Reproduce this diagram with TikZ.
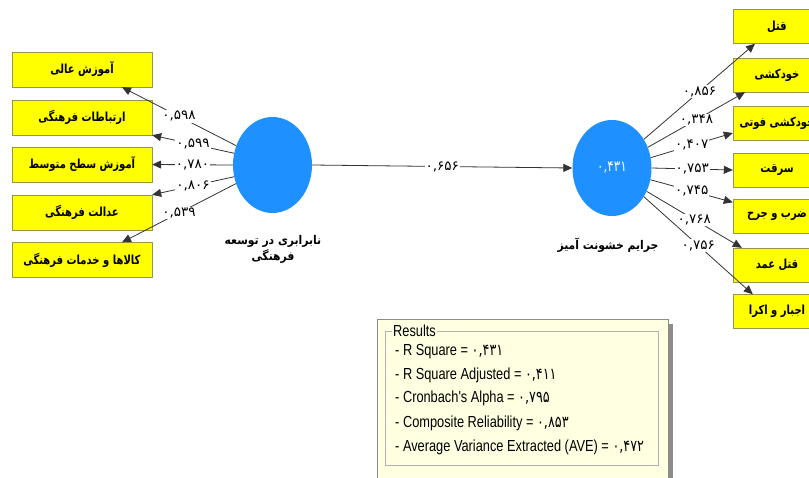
\documentclass[tikz,border=0pt]{standalone}
\usepackage{fontspec}
\setmainfont{Liberation Sans}
\newfontfamily\fa[Script=Arabic]{DejaVu Sans}
\newfontfamily\faC[Script=Arabic,FakeStretch=0.8]{DejaVu Sans}
\newfontfamily\faL[Script=Arabic,FakeStretch=0.9]{DejaVu Sans}
\newfontfamily\faN[Script=Arabic,FakeStretch=0.8]{DejaVu Sans}
\newfontfamily\resfont[FakeStretch=0.8]{Liberation Sans}
\TeXXeTstate=1
\usetikzlibrary{arrows.meta,shapes.geometric}
\definecolor{boxyellow}{RGB}{255,255,0}
\definecolor{boxborder}{RGB}{150,150,70}
\definecolor{lvblue}{RGB}{30,144,255}
\definecolor{resfill}{RGB}{255,255,225}
\tikzset{
  ind/.style={draw=boxborder, fill=boxyellow, minimum width=140pt, minimum height=35pt, inner sep=0pt,
    font=\faC\bfseries\fontsize{12.5}{14}\selectfont},
  indr/.style={ind, minimum width=88pt, minimum height=34pt},
  lv/.style={ellipse, fill=lvblue, minimum width=79pt, minimum height=96pt, inner sep=0pt,
    text=white, font=\faN\fontsize{15}{16}\selectfont},
  lvlab/.style={font=\faL\bfseries\fontsize{12}{16}\selectfont, align=center, inner sep=0pt},
  ld/.style={fill=white, inner sep=1pt, font=\fa\fontsize{13.5}{14}\selectfont},
  arr/.style={-{Triangle[length=9pt,width=8pt]}, draw=black!80, line width=0.8pt},
  resline/.style={anchor=west, inner sep=0pt, font=\resfont\fontsize{16}{18}\selectfont}
}
\begin{document}
\begin{tikzpicture}[x=1pt,y=-1pt]
\useasboundingbox (0,0) rectangle (809,477);
\clip (0,0) rectangle (809,477);
% left indicators
\node[ind] (b1) at (82,69.5) {\beginR آموزش عالی\endR};
\node[ind] (b2) at (82,117.5) {\beginR ارتباطات فرهنگی\endR};
\node[ind] (b3) at (82,164.5) {\beginR آموزش سطح متوسط\endR};
\node[ind] (b4) at (82,212.5) {\beginR عدالت فرهنگی\endR};
\node[ind] (b5) at (82,260) {\beginR کالاها و خدمات فرهنگی\endR};
% latent variables
\node[lv] (L) at (272.5,165) {};
\node[lv] (R) at (612,168) {۰,۴۳۱};
\node[lvlab] (Llab) at (273,249) {\beginR نابرابری در توسعه\endR\\\beginR فرهنگی\endR};
\node[lvlab] (Rlab) at (608,245) {\beginR جرایم خشونت آمیز\endR};
% right indicators
\node[indr] (r1) at (777,26.5) {\makebox[0pt]{\beginR قتل\endR}};
\node[indr] (r2) at (777,75) {\makebox[0pt]{\beginR خودکشی\endR}};
\node[indr] (r3) at (777,123) {\makebox[0pt]{\beginR خودکشی فوتی\endR}};
\node[indr] (r4) at (777,170) {\makebox[0pt]{\beginR سرقت\endR}};
\node[indr] (r5) at (777,216.5) {\makebox[0pt]{\beginR ضرب و جرح\endR}};
\node[indr] (r6) at (777,265) {\makebox[0pt]{\beginR قتل عمد\endR}};
\node[indr] (r7) at (777,311.5) {\makebox[0pt]{\beginR اجبار و اکرا\endR}};
% left arrows
\draw[arr] (L.152) -- node[ld]{۰,۵۹۸} ([xshift=40pt]b1.south);
\draw[arr] (L.163) -- node[ld]{۰,۵۹۹} (b2.south east);
\draw[arr] (L.180) -- node[ld]{۰,۷۸۰} (b3.east);
\draw[arr] (L.197) -- node[ld]{۰,۸۰۶} (b4.north east);
\draw[arr] (L.207) -- node[ld]{۰,۵۳۹} ([xshift=40pt]b5.north);
% inner path
\draw[arr] (L.east) -- node[ld]{۰,۶۵۶} (R.west);
% right arrows
\draw[arr] (R.42) -- node[ld]{۰,۸۵۶} ([xshift=-22pt]r1.south);
\draw[arr] (R.30) -- node[ld]{۰,۳۴۸} ([xshift=-32pt]r2.south);
\draw[arr] (R.15) -- node[ld]{۰,۴۰۷} ([yshift=-10pt]r3.west);
\draw[arr] (R.0) -- node[ld]{۰,۷۵۳} (r4.west);
\draw[arr] (R.-17) -- node[ld]{۰,۷۴۵} ([yshift=-3pt]r5.north west);
\draw[arr] (R.-34) -- node[ld]{۰,۷۶۸} ([xshift=9pt]r6.north west);
\draw[arr] (R.-42) -- node[ld]{۰,۷۵۶} ([xshift=20pt]r7.north west);
% results box
\fill[black!45] (668,324) rectangle (673,480);
\draw[black!45, fill=resfill] (377,319) rectangle (668,480);
\draw[black!30] (385,331) rectangle (658,465);
\node[resline, fill=resfill, inner xsep=1pt] (rt) at (392,331) {Results};
\node[resline] (q1) at (395,352) {- R Square = {\faN ۰,۴۳۱}};
\node[resline] (q2) at (395,375) {- R Square Adjusted = {\faN ۰,۴۱۱}};
\node[resline] (q3) at (395,398) {- Cronbach's Alpha = {\faN ۰,۷۹۵}};
\node[resline] (q4) at (395,423) {- Composite Reliability = {\faN ۰,۸۵۳}};
\node[resline] (q5) at (395,447) {- Average Variance Extracted (AVE) = {\faN ۰,۴۷۲}};
\end{tikzpicture}
\end{document}
